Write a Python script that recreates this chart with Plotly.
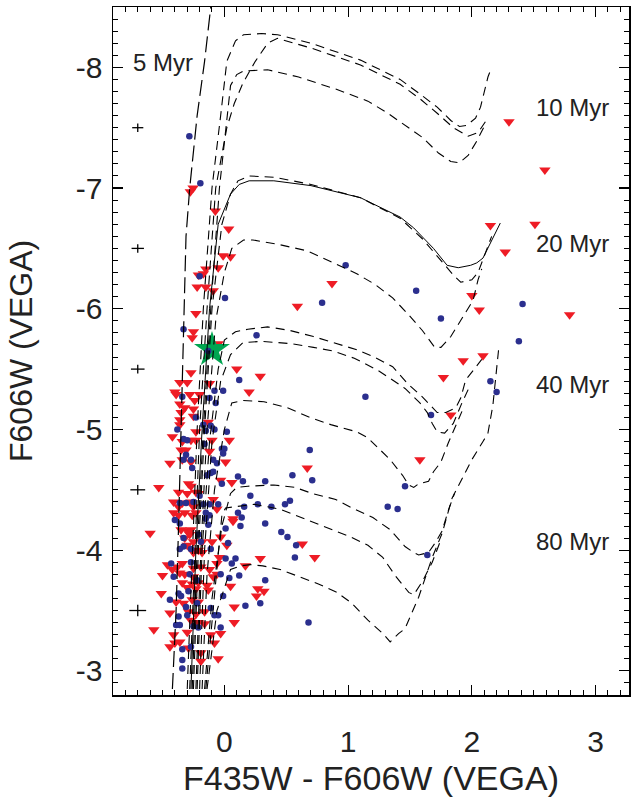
import plotly.graph_objects as go

# ---------------- data ----------------
red_x = [-0.253, -0.275, -0.073, 0.035,
         2.30, 2.59, 2.15, 2.51, 2.27,
         -0.01, 0.05, -0.15, -0.17, -0.05, -0.21, -0.22, -0.15, -0.09, 0.87, 0.59, -0.23, -0.25, -0.26, -0.05,
         0.10, 0.29, -0.27, -0.12, -0.36, -0.30, -0.40, -0.39, -0.28, -0.20, -0.24, 0.20, -0.36, -0.32, -0.25,
         -0.35, -0.25, -0.36, -0.36, -0.13, -0.23, -0.42, -0.34, -0.27, -0.23, -0.10, 0.04, -0.35, -0.31, -0.12,
         -0.34, -0.27, 0.01, -0.44, 0.67,
         2.00, 2.06, 2.79, 1.93, 2.09, 1.77, 1.83, 1.58,
         -0.03, 0.06, -0.53, -0.29, -0.27, -0.37, -0.30, -0.23, -0.21, -0.41, -0.37, -0.34, -0.27, -0.25, -0.09,
         -0.06, -0.41, -0.37, -0.32, -0.26, -0.23, 0.07, 0.07, -0.35, -0.30, -0.27, -0.60, -0.28, -0.32, -0.03,
         -0.10, -0.18, -0.25, 0.02, 0.63, -0.30, -0.21, -0.25, -0.18, -0.04, -0.06, 0.29, 0.73, 0.17, -0.46,
         -0.38, -0.34, -0.25, -0.19, -0.12, -0.42, -0.36, -0.32, -0.50, -0.25, -0.09, -0.06, -0.34, -0.26, -0.21,
         -0.14, 0.05, -0.30, -0.23, -0.13, 0.27, 0.32, 0.26, -0.51, -0.39, -0.33, -0.26, -0.21, -0.44, -0.29,
         -0.23, -0.16, 0.08, 0.08, -0.27, -0.21, -0.16, -0.57, -0.41, -0.30, -0.11, -0.03, -0.40, -0.36, -0.44,
         -0.08, -0.29, -0.19, -0.19, -0.05]
red_y = [-7.00, -6.97, -6.81, -6.66,
         -7.55, -7.15, -6.69, -6.70, -6.47,
         -6.44, -6.43, -6.33, -6.29, -6.34, -6.28, -6.18, -6.18, -6.15, -6.21, -6.02, -5.96, -5.81, -5.76, -5.71,
         -5.50, -5.44, -5.47, -5.38, -5.39, -5.39, -5.31, -5.29, -5.29, -5.29, -5.24, -5.31, -5.21, -5.18, -5.17,
         -5.14, -5.11, -5.08, -5.04, -5.06, -4.98, -4.94, -4.90, -4.91, -4.91, -4.91, -4.91, -4.83, -4.83, -4.82,
         -4.75, -4.73, -4.73, -4.72, -4.68,
         -6.11, -5.99, -5.95, -5.57, -5.61, -5.43, -5.12, -4.75,
         -4.58, -4.56, -4.52, -4.55, -4.53, -4.48, -4.47, -4.48, -4.47, -4.40, -4.36, -4.39, -4.40, -4.36, -4.42,
         -4.34, -4.31, -4.29, -4.31, -4.29, -4.31, -4.26, -4.24, -4.17, -4.16, -4.17, -4.14, -4.13, -4.10, -4.11,
         -4.07, -4.07, -4.07, -4.04, -4.05, -4.04, -4.00, -3.98, -3.98, -3.94, -3.89, -3.93, -3.94, -3.87, -3.88,
         -3.86, -3.89, -3.85, -3.86, -3.84, -3.84, -3.81, -3.80, -3.79, -3.78, -3.78, -3.80, -3.73, -3.72, -3.73,
         -3.71, -3.70, -3.69, -3.68, -3.67, -3.68, -3.66, -3.62, -3.64, -3.57, -3.56, -3.59, -3.57, -3.48, -3.49,
         -3.47, -3.49, -3.53, -3.40, -3.42, -3.40, -3.39, -3.34, -3.30, -3.32, -3.30, -3.31, -3.23, -3.24, -3.20,
         -3.23, -3.19, -3.15, -3.08, -3.10]

blue_x = [-0.283, -0.194, -0.20, 0.005, 0.98, 0.79, -0.33, 0.26, -0.13, 0.12, -0.34, -0.08, -0.01, -0.12,
          -0.07, 1.14, -0.23, -0.17, -0.11, -0.08, -0.38, -0.15, 0.02, -0.33, -0.30, -0.16, -0.02, 0.0, -0.31,
          -0.33, -0.01, -0.27, -0.09, -0.06, 0.69,
          1.55, 2.41, 1.75, 2.38, 2.15, 2.20, 1.67,
          -0.26, -0.14, -0.11, -0.09, 0.11, 0.15, -0.02, 0.33, 0.55, 0.71, -0.20, 0.21, -0.36, -0.31, -0.25,
          -0.17, -0.12, -0.05, 0.16, 0.27, 0.38, 0.49, 0.53, -0.15, -0.12, -0.15, -0.40, -0.36, 0.11, 0.14,
          0.13, 0.33, -0.13, 0.01, -0.21, 0.46, 0.51, -0.33, -0.19, -0.11, 0.03, 0.58, -0.36, -0.33, -0.27,
          0.01, 0.06, 0.09, 0.57, -0.43, -0.27, -0.41, -0.28, -0.03, 0.12, 0.04, -0.22, 0.33, -0.37, -0.29,
          -0.01, -0.35, -0.44, -0.31, -0.22, -0.11, -0.08, -0.05, 0.17, 0.29, -0.37, -0.30, 0.68, -0.39, -0.36,
          -0.25, -0.21, -0.03, -0.34, -0.27, -0.34, -0.34,
          1.46, 1.32, 1.40, 1.64]
blue_y = [-7.43, -7.04, -6.27, -6.09, -6.36, -6.05, -5.83, -5.78, -5.65, -5.41, -5.27, -5.32, -5.32, -5.26,
          -5.22, -5.27, -5.10, -5.04, -5.03, -5.00, -5.00, -4.99, -4.98, -4.92, -4.91, -4.88, -4.84, -4.84, -4.79,
          -4.75, -4.80, -4.75, -4.75, -4.72, -4.83,
          -6.15, -6.04, -5.92, -5.73, -5.40, -5.31, -5.12,
          -4.68, -4.62, -4.64, -4.65, -4.61, -4.57, -4.55, -4.57, -4.62, -4.58, -4.45, -4.45, -4.39, -4.39, -4.40,
          -4.38, -4.38, -4.38, -4.36, -4.38, -4.36, -4.38, -4.41, -4.31, -4.29, -4.26, -4.25, -4.22, -4.31, -4.27,
          -4.20, -4.22, -4.21, -4.18, -4.13, -4.15, -4.11, -4.10, -4.07, -4.01, -4.06, -4.04, -4.01, -4.03, -4.01,
          -3.93, -3.89, -3.93, -3.94, -3.89, -3.90, -3.78, -3.80, -3.80, -3.79, -3.77, -3.75, -3.75, -3.64, -3.66,
          -3.62, -3.62, -3.59, -3.53, -3.56, -3.52, -3.46, -3.46, -3.54, -3.56, -3.45, -3.46, -3.40, -3.38, -3.38,
          -3.37, -3.36, -3.36, -3.18, -3.20, -3.09, -3.02,
          -4.53, -4.36, -4.34, -3.96]

star_x = [-0.10]
star_y = [-5.66]

err_x = [-0.70, -0.70, -0.70, -0.70, -0.70]
err_y = [-7.5, -6.5, -5.5, -4.5, -3.5]
err_dx = [0.045, 0.05, 0.055, 0.06, 0.068]
err_dy = [0.035, 0.035, 0.037, 0.04, 0.047]

# isochrones
iso5_x = [-0.42, -0.39, -0.37, -0.35, -0.33, -0.31, -0.28, -0.22, -0.16, -0.13, -0.11]
iso5_y = [-2.85, -3.5, -4.2, -5.0, -5.8, -6.6, -7.0, -7.6, -8.05, -8.32, -8.5]

iso10a_x = [-0.30, -0.26, -0.22, -0.17, -0.10, -0.03, 0.0, 0.02, 0.09, 0.155, 0.30, 0.43, 0.70, 1.10, 1.26,
            1.42, 1.58, 1.72, 1.83, 1.90, 1.96, 2.03, 2.07, 2.13, 2.16]
iso10a_y = [-2.85, -4.0, -5.0, -6.0, -7.0, -7.6, -7.9, -8.05, -8.22, -8.27, -8.28, -8.27, -8.20, -8.06, -7.98,
            -7.90, -7.78, -7.67, -7.56, -7.51, -7.52, -7.58, -7.67, -7.92, -8.0]
iso10b_x = [-0.28, -0.24, -0.20, -0.14, -0.07, 0.02, 0.08, 0.15, 0.25, 0.35, 0.43, 0.70, 1.10, 1.26, 1.42,
            1.58, 1.72, 1.85, 1.97, 2.05, 2.11]
iso10b_y = [-2.85, -4.0, -5.0, -6.0, -7.0, -7.5, -7.7, -7.87, -8.05, -8.20, -8.24, -8.16, -8.02, -7.94, -7.86,
            -7.74, -7.62, -7.50, -7.43, -7.46, -7.55]
iso10c_x = [-0.26, -0.22, -0.17, -0.11, -0.04, 0.02, 0.05, 0.10, 0.155, 0.35, 0.60, 0.90, 1.16, 1.32, 1.45,
            1.60, 1.73, 1.83, 1.90, 1.97, 2.04, 2.11]
iso10c_y = [-2.85, -4.0, -5.0, -6.0, -7.0, -7.6, -7.85, -7.94, -7.97, -7.98, -7.92, -7.82, -7.72, -7.62, -7.53,
            -7.42, -7.29, -7.22, -7.21, -7.27, -7.39, -7.53]

iso20a_x = [-0.27, -0.23, -0.18, -0.12, -0.05, 0.05, 0.12, 0.20, 0.40, 0.70, 1.10, 1.26, 1.42, 1.53, 1.69,
            1.80, 1.89, 1.99, 2.04, 2.09, 2.13, 2.23]
iso20a_y = [-2.85, -4.0, -5.0, -6.0, -6.7, -6.95, -7.03, -7.06, -7.06, -7.02, -6.92, -6.84, -6.76, -6.67, -6.50,
            -6.36, -6.34, -6.36, -6.38, -6.42, -6.50, -6.71]
iso20b_x = [-0.25, -0.21, -0.16, -0.10, -0.02, 0.05, 0.11, 0.20, 0.40, 0.70, 1.10, 1.42, 1.60, 1.75, 1.85,
            1.91, 2.00, 2.05, 2.12, 2.16]
iso20b_y = [-2.85, -4.0, -5.0, -6.0, -6.7, -6.95, -7.06, -7.10, -7.09, -7.03, -6.92, -6.75, -6.58, -6.40, -6.28,
            -6.22, -6.24, -6.30, -6.50, -6.60]
iso20c_x = [-0.23, -0.19, -0.14, -0.07, 0.0, 0.06, 0.155, 0.23, 0.45, 0.67, 0.84, 1.07, 1.22, 1.36, 1.48,
            1.60, 1.70, 1.75, 1.83, 1.92, 2.01, 2.05, 2.08]
iso20c_y = [-2.85, -4.0, -5.0, -5.9, -6.3, -6.5, -6.57, -6.57, -6.53, -6.48, -6.40, -6.29, -6.20, -6.09, -5.96,
            -5.82, -5.68, -5.68, -5.77, -5.92, -6.07, -6.24, -6.33]

iso40a_x = [-0.22, -0.18, -0.12, -0.05, 0.0, 0.09, 0.19, 0.35, 0.53, 0.72, 0.88, 1.07, 1.21, 1.36, 1.48,
            1.60, 1.72, 1.79, 1.87, 1.91, 1.95, 2.01, 2.08]
iso40a_y = [-2.85, -4.0, -4.9, -5.5, -5.74, -5.81, -5.83, -5.85, -5.82, -5.77, -5.72, -5.66, -5.60, -5.52, -5.38,
            -5.27, -5.14, -5.14, -5.18, -5.26, -5.41, -5.49, -5.58]
iso40b_x = [-0.20, -0.16, -0.10, -0.03, 0.05, 0.15, 0.30, 0.55, 0.72, 0.88, 1.05, 1.16, 1.24, 1.33, 1.46,
            1.58, 1.64, 1.68, 1.72, 1.78, 1.85, 1.92, 1.97]
iso40b_y = [-2.85, -4.0, -4.9, -5.4, -5.62, -5.72, -5.73, -5.71, -5.68, -5.65, -5.59, -5.53, -5.49, -5.43, -5.34,
            -5.22, -5.14, -5.05, -4.98, -4.97, -5.05, -5.22, -5.33]
iso40c_x = [-0.18, -0.14, -0.08, 0.0, 0.06, 0.15, 0.32, 0.51, 0.69, 0.86, 1.07, 1.16, 1.34, 1.44, 1.49,
            1.53, 1.57, 1.65, 1.69, 1.75, 1.81, 1.88, 1.92]
iso40c_y = [-2.85, -3.8, -4.5, -5.0, -5.22, -5.24, -5.23, -5.18, -5.10, -5.04, -4.98, -4.93, -4.75, -4.62, -4.54,
            -4.52, -4.55, -4.57, -4.65, -4.73, -4.89, -5.05, -5.15]

iso80a_x = [-0.16, -0.10, -0.02, 0.05, 0.10, 0.19, 0.40, 0.57, 0.71, 0.90, 1.03, 1.20, 1.34, 1.46, 1.53,
            1.57, 1.65, 1.71, 1.76, 1.81, 1.86]
iso80a_y = [-2.85, -3.6, -4.2, -4.47, -4.52, -4.53, -4.54, -4.52, -4.47, -4.42, -4.35, -4.27, -4.17, -4.03, -3.98,
            -3.96, -3.98, -4.07, -4.16, -4.33, -4.47]
iso80b_x = [-0.15, -0.08, -0.02, 0.01, 0.15, 0.24, 0.45, 0.67, 0.83, 1.02, 1.16, 1.28, 1.38, 1.49, 1.53,
            1.60, 1.68, 1.74]
iso80b_y = [-2.85, -3.6, -4.29, -4.35, -4.37, -4.38, -4.34, -4.25, -4.19, -4.11, -4.04, -3.94, -3.79, -3.65, -3.63,
            -3.74, -3.90, -4.06]
iso80c_x = [-0.14, -0.06, 0.05, 0.13, 0.21, 0.31, 0.45, 0.61, 0.76, 0.91, 1.03, 1.16, 1.28, 1.34, 1.41,
            1.46, 1.50, 1.57, 1.63, 1.68, 1.76, 1.84, 1.92, 2.00, 2.09, 2.13, 2.17, 2.22]
iso80c_y = [-2.85, -3.5, -3.84, -3.87, -3.88, -3.87, -3.84, -3.78, -3.72, -3.65, -3.56, -3.42, -3.31, -3.24, -3.31,
            -3.35, -3.45, -3.61, -3.79, -3.94, -4.14, -4.43, -4.59, -4.75, -4.90, -4.97, -5.20, -5.70]

age_labels = ["5 Myr", "10 Myr", "20 Myr", "40 Myr", "80 Myr"]
age_label_x = [-0.50, 2.81, 2.81, 2.81, 2.81]
age_label_y = [-8.04, -7.67, -6.54, -5.37, -4.07]

x_tickvals = [0, 1, 2, 3]
y_tickvals = [-8, -7, -6, -5, -4, -3]
X_RANGE = [-0.9, 3.27]
Y_RANGE = [-2.8, -8.5]

# ---------------- figure ----------------
FONT = "Liberation Sans, Arial, Helvetica, sans-serif"
fig = go.Figure()

fig.add_trace(go.Scatter(x=red_x, y=red_y, mode="markers",
                         marker=dict(symbol="triangle-down", size=10, color="#EE1C25", line=dict(width=0)),
                         showlegend=False, hoverinfo="skip"))
fig.add_trace(go.Scatter(x=star_x, y=star_y, mode="markers",
                         marker=dict(symbol="star", size=27, color="#00A651", line=dict(width=0)),
                         showlegend=False, hoverinfo="skip"))
fig.add_trace(go.Scatter(x=blue_x, y=blue_y, mode="markers",
                         marker=dict(symbol="circle", size=6.5, color="#2B2F8E", line=dict(width=0)),
                         showlegend=False, hoverinfo="skip"))

iso_dashed = [(iso10a_x, iso10a_y), (iso10b_x, iso10b_y), (iso10c_x, iso10c_y),
              (iso20b_x, iso20b_y), (iso20c_x, iso20c_y),
              (iso40a_x, iso40a_y), (iso40b_x, iso40b_y), (iso40c_x, iso40c_y),
              (iso80a_x, iso80a_y), (iso80b_x, iso80b_y), (iso80c_x, iso80c_y)]
for xs, ys in iso_dashed:
    fig.add_trace(go.Scatter(x=xs, y=ys, mode="lines", line=dict(color="black", width=1.1, dash="9px,6px"),
                             showlegend=False, hoverinfo="skip"))
fig.add_trace(go.Scatter(x=iso20a_x, y=iso20a_y, mode="lines", line=dict(color="black", width=1.0),
                         showlegend=False, hoverinfo="skip"))
fig.add_trace(go.Scatter(x=iso5_x, y=iso5_y, mode="lines", line=dict(color="black", width=1.2, dash="16px,6px"),
                         showlegend=False, hoverinfo="skip"))

fig.add_trace(go.Scatter(x=err_x, y=err_y, mode="markers", marker=dict(size=1, color="black", opacity=0),
                         error_x=dict(type="data", array=err_dx, color="black", thickness=1.3, width=0),
                         error_y=dict(type="data", array=err_dy, color="black", thickness=1.3, width=0),
                         showlegend=False, hoverinfo="skip"))

# invisible trace on the mirror axes (top / right) so their ticks are drawn
fig.add_trace(go.Scatter(x=[X_RANGE[0]], y=[Y_RANGE[0]], xaxis="x2", yaxis="y2", mode="markers",
                         marker=dict(opacity=0), showlegend=False, hoverinfo="skip"))

for t, lx, ly in zip(age_labels, age_label_x, age_label_y):
    fig.add_annotation(x=lx, y=ly, text=t, showarrow=False, xanchor="center", yanchor="middle",
                       font=dict(family=FONT, size=24, color="#222"))

fig.add_annotation(x=0.5, y=0, xref="paper", yref="paper", text="F435W - F606W (VEGA)", showarrow=False,
                   xanchor="center", yanchor="middle", yshift=-83, font=dict(family=FONT, size=34, color="#222"))
fig.add_annotation(x=0, y=0.5, xref="paper", yref="paper", text="F606W (VEGA)", showarrow=False,
                   textangle=-90, xanchor="center", yanchor="middle", xshift=-92,
                   font=dict(family=FONT, size=32, color="#222"))

axis_common = dict(showgrid=False, zeroline=False, showline=True, linecolor="black", linewidth=1.5,
                   ticks="inside", ticklen=10, tickwidth=1.2, tickcolor="black", automargin=False,
                   tickfont=dict(family=FONT, size=30, color="#222"),
                   minor=dict(dtick=0.1, ticks="inside", ticklen=5, tickwidth=1, tickcolor="black"))
fig.update_layout(
    xaxis=dict(range=X_RANGE, tickvals=x_tickvals, ticktext=[str(v) for v in x_tickvals],
               ticklabelstandoff=19, **axis_common),
    yaxis=dict(range=Y_RANGE, tickvals=y_tickvals, ticktext=[str(v) for v in y_tickvals],
               ticklabelstandoff=3, **axis_common),
    xaxis2=dict(range=X_RANGE, overlaying="x", side="top", anchor="y", tickvals=x_tickvals,
                showticklabels=False, **axis_common),
    yaxis2=dict(range=Y_RANGE, overlaying="y", side="right", anchor="x", tickvals=y_tickvals,
                showticklabels=False, **axis_common),
)

fig.update_layout(width=631, height=808, margin=dict(l=113, r=2, t=7, b=113, autoexpand=False),
                  paper_bgcolor="white", plot_bgcolor="white", font=dict(family=FONT))

fig.write_html("out.html", config={"displayModeBar": False, "staticPlot": True},
               post_script="document.body.style.margin='0px';document.body.style.overflow='hidden';")
